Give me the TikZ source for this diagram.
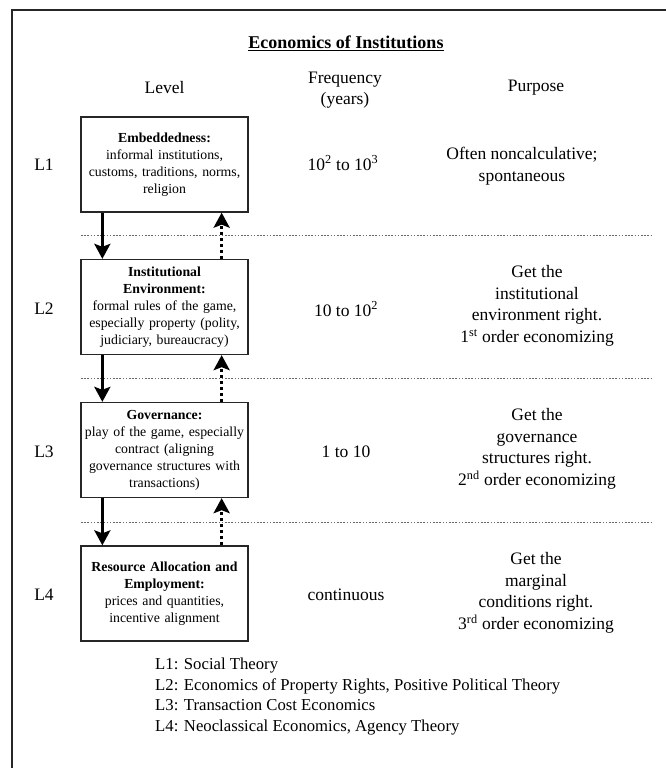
\documentclass[tikz,border=0pt]{standalone}
\usepackage{fontspec}
\setmainfont{Liberation Serif}
\usetikzlibrary{arrows.meta}
\begin{document}
\begin{tikzpicture}[x=1pt,y=-1pt,
  levelbox/.style={draw=black!85,line width=1.3pt,minimum width=167pt,minimum height=95pt,
    text width=165pt,align=center,inner sep=0pt,font=\fontsize{13.8}{17}\selectfont},
  bigtext/.style={align=center,inner sep=0pt,font=\fontsize{17.5}{21.5}\selectfont},
  sepline/.style={black!60,line width=0.9pt,dash pattern=on 1.6pt off 1.6pt},
  downarrow/.style={line width=3pt,-{Stealth[length=15pt,width=16pt,inset=3pt]}},
  uparrow/.style={line width=3pt,dash pattern=on 3pt off 3pt,-{Stealth[length=15pt,width=16pt,inset=3pt]}}
]
\useasboundingbox (0,0) rectangle (666,768);
\draw[line width=2pt,black!85] (11.5,768) -- (11.5,10) -- (666,10);

% title and headers
\node[inner sep=0pt,font=\fontsize{18}{21}\selectfont] (title) at (346,43) {\underline{\textbf{Economics of Institutions}}};
\node[bigtext] (hlevel) at (164.5,88) {Level};
\node[bigtext] (hfreq) at (345,90) {Frequency\\(years)};
\node[bigtext] (hpurp) at (536,88) {Purpose};

% boxes
\node[levelbox] (b1) at (164.5,164.5) {\textbf{Embeddedness:}\\informal institutions,\\customs, traditions, norms,\\religion};
\node[levelbox] (b2) at (164.5,307) {\textbf{Institutional}\\\textbf{Environment:}\\formal rules of the game,\\especially property (polity,\\judiciary, bureaucracy)};
\node[levelbox] (b3) at (164.5,450) {\textbf{Governance:}\\play of the game, especially\\contract (aligning\\governance structures with\\transactions)};
\node[levelbox] (b4) at (164.5,593.5) {\textbf{Resource Allocation and}\\\textbf{Employment:}\\prices and quantities,\\incentive alignment};

% level labels
\node[bigtext] (l1) at (44,165) {L1};
\node[bigtext] (l2) at (44,309) {L2};
\node[bigtext] (l3) at (44,452) {L3};
\node[bigtext] (l4) at (44,595) {L4};

% frequency
\node[bigtext] (f1) at (343,163) {10\textsuperscript{2} to 10\textsuperscript{3}};
\node[bigtext] (f2) at (346,309) {10 to 10\textsuperscript{2}};
\node[bigtext] (f3) at (346,452) {1 to 10};
\node[bigtext] (f4) at (346,595) {continuous};

% purpose
\node[bigtext] (p1) at (522,166) {Often noncalculative;\\spontaneous};
\node[bigtext] (p2) at (537,306) {Get the\\institutional\\environment right.\\1\textsuperscript{st} order economizing};
\node[bigtext] (p3) at (537,449) {Get the\\governance\\structures right.\\2\textsuperscript{nd} order economizing};
\node[bigtext] (p4) at (536,593) {Get the\\marginal\\conditions right.\\3\textsuperscript{rd} order economizing};

% separators
\draw[sepline] (81,235.5) -- (652,235.5);
\draw[sepline] (81,378) -- (652,378);
\draw[sepline] (81,522) -- (652,522);

% arrows
\draw[downarrow] ([xshift=22pt]b1.south west) -- ([xshift=22pt]b2.north west);
\draw[downarrow] ([xshift=22pt]b2.south west) -- ([xshift=22pt]b3.north west);
\draw[downarrow] ([xshift=22pt]b3.south west) -- ([xshift=22pt]b4.north west);
\draw[uparrow] ([xshift=-27pt]b2.north east) -- ([xshift=-27pt]b1.south east);
\draw[uparrow] ([xshift=-27pt]b3.north east) -- ([xshift=-27pt]b2.south east);
\draw[uparrow] ([xshift=-27pt]b4.north east) -- ([xshift=-27pt]b3.south east);

% legend
\node[anchor=north west,align=left,inner sep=0pt,font=\fontsize{16.7}{20.6}\selectfont] (legend) at (155,658)
 {L1: Social Theory\\L2: Economics of Property Rights, Positive Political Theory\\L3: Transaction Cost Economics\\L4: Neoclassical Economics, Agency Theory};
\end{tikzpicture}
\end{document}
